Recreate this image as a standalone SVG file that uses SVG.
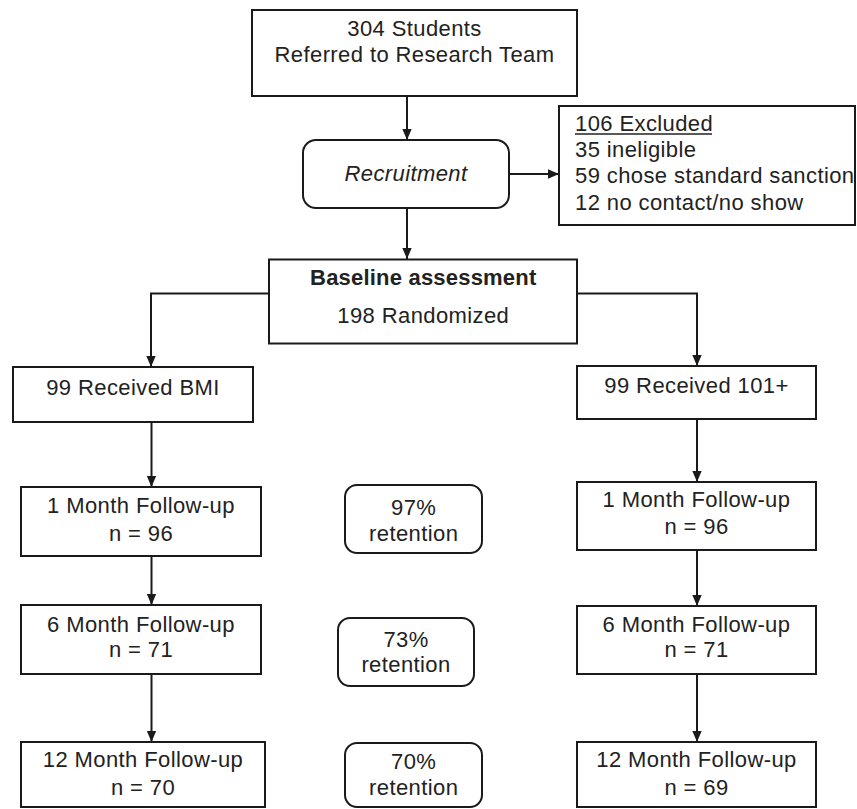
<svg xmlns="http://www.w3.org/2000/svg" width="857" height="809" viewBox="0 0 857 809">
<defs>
<marker id="ah" markerUnits="userSpaceOnUse" markerWidth="11" markerHeight="13" refX="13" refY="5.5" viewBox="0 0 13 11" orient="auto">
<path d="M0,0 L13,5.5 L0,11 z" fill="#1a1a1a"/>
</marker>
<style>
rect{fill:#fff;stroke:#1a1a1a;stroke-width:2}
text{font-family:"Liberation Sans",Arial,sans-serif;font-size:22px;fill:#222;letter-spacing:0.4px}
.c{text-anchor:middle}
.b{font-weight:bold;letter-spacing:0.2px}
.i{font-style:italic}
.ln{fill:none;stroke:#1a1a1a;stroke-width:2}
.ar{marker-end:url(#ah)}
</style>
</defs>
<rect x="0" y="0" width="857" height="809" style="fill:#fff;stroke:none"/>
<g id="connectors">
<line class="ln ar" x1="407" y1="96" x2="407" y2="140"/>
<line class="ln ar" x1="509" y1="174" x2="559" y2="174"/>
<line class="ln ar" x1="407" y1="208" x2="407" y2="259"/>
<polyline class="ln ar" points="269,293.5 151,293.5 151,367"/>
<polyline class="ln ar" points="577,293.5 697,293.5 697,366"/>
<line class="ln ar" x1="151.5" y1="422" x2="151.5" y2="487"/>
<line class="ln ar" x1="151.5" y1="556" x2="151.5" y2="605"/>
<line class="ln ar" x1="151.5" y1="674" x2="151.5" y2="742"/>
<line class="ln ar" x1="697" y1="419" x2="697" y2="482"/>
<line class="ln ar" x1="697" y1="550" x2="697" y2="606"/>
<line class="ln ar" x1="697" y1="674" x2="697" y2="742"/>
</g>
<g id="referred">
<rect x="252" y="10" width="325" height="86"/>
<text class="c" x="414.5" y="36">304 Students</text>
<text class="c" x="414.5" y="62">Referred to Research Team</text>
</g>
<g id="recruitment">
<rect x="303" y="140" width="206" height="68" rx="13"/>
<text class="c i" x="406" y="181">Recruitment</text>
</g>
<g id="excluded">
<rect x="559" y="106" width="296" height="119"/>
<text x="575" y="131">106 Excluded</text>
<line x1="575" y1="134" x2="712" y2="134" stroke="#222" stroke-width="1.5"/>
<text x="575" y="157">35 ineligible</text>
<text x="575" y="183">59 chose standard sanction</text>
<text x="575" y="210">12 no contact/no show</text>
</g>
<g id="baseline">
<rect x="269" y="259.5" width="308" height="84"/>
<text class="c b" x="423.3" y="285">Baseline assessment</text>
<text class="c" x="423.3" y="323">198 Randomized</text>
</g>
<g id="bmi">
<rect x="13" y="367" width="240" height="55"/>
<text class="c" x="133" y="395">99 Received BMI</text>
</g>
<g id="r101">
<rect x="577" y="366" width="239" height="53"/>
<text class="c" x="696.5" y="393">99 Received 101+</text>
</g>
<g id="bmi1m">
<rect x="21" y="487" width="240" height="69"/>
<text class="c" x="141" y="513">1 Month Follow-up</text>
<text class="c" x="141" y="541">n = 96</text>
</g>
<g id="ret97">
<rect x="345" y="485" width="137" height="68" rx="12"/>
<text class="c" x="413.7" y="515">97%</text>
<text class="c" x="413.7" y="541">retention</text>
</g>
<g id="r1m">
<rect x="577" y="482" width="239" height="68"/>
<text class="c" x="696.5" y="507">1 Month Follow-up</text>
<text class="c" x="696.5" y="534">n = 96</text>
</g>
<g id="bmi6m">
<rect x="21" y="605" width="240" height="69"/>
<text class="c" x="141" y="632">6 Month Follow-up</text>
<text class="c" x="141" y="657">n = 71</text>
</g>
<g id="ret73">
<rect x="338" y="618" width="136" height="68" rx="12"/>
<text class="c" x="406" y="647">73%</text>
<text class="c" x="406" y="672">retention</text>
</g>
<g id="r6m">
<rect x="577" y="606" width="239" height="68"/>
<text class="c" x="696.5" y="632">6 Month Follow-up</text>
<text class="c" x="696.5" y="657">n = 71</text>
</g>
<g id="bmi12m">
<rect x="21" y="742" width="244" height="65"/>
<text class="c" x="143" y="767">12 Month Follow-up</text>
<text class="c" x="143" y="795">n = 70</text>
</g>
<g id="ret70">
<rect x="345" y="743" width="137" height="64" rx="12"/>
<text class="c" x="413.7" y="769">70%</text>
<text class="c" x="413.7" y="795">retention</text>
</g>
<g id="r12m">
<rect x="577" y="742" width="239" height="65"/>
<text class="c" x="696.5" y="767">12 Month Follow-up</text>
<text class="c" x="696.5" y="795">n = 69</text>
</g>
</svg>
